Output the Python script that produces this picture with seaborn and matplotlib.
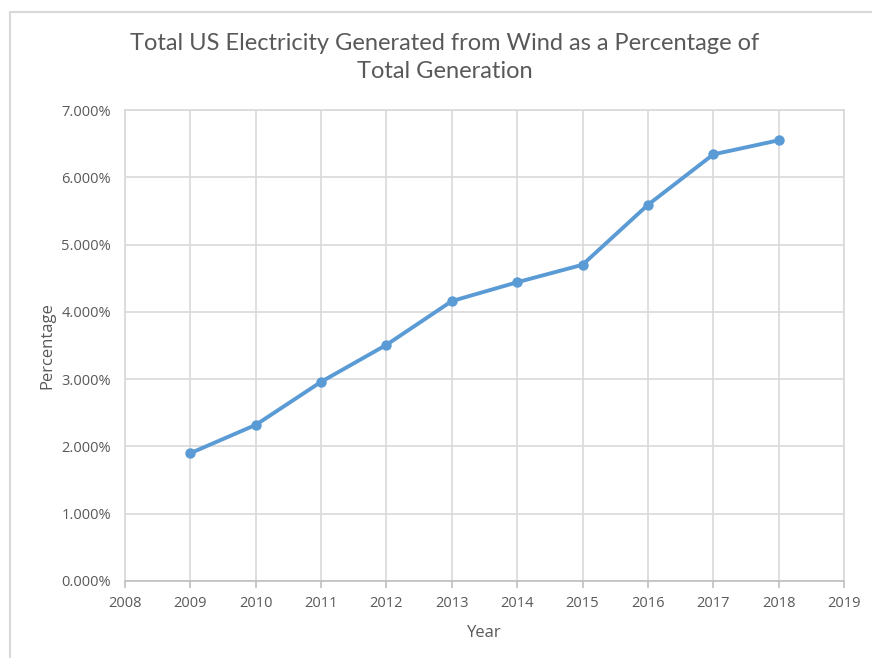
import matplotlib
matplotlib.use("Agg")
import matplotlib.pyplot as plt
import seaborn as sns
import pandas as pd
from matplotlib.lines import Line2D
from matplotlib.ticker import FuncFormatter, MultipleLocator

years = [2009, 2010, 2011, 2012, 2013, 2014, 2015, 2016, 2017, 2018]
wind_pct = [1.90, 2.32, 2.96, 3.51, 4.16, 4.44, 4.70, 5.59, 6.34, 6.55]

title = "Total US Electricity Generated from Wind as a Percentage of\nTotal Generation"

sns.set_theme(style="white")
plt.rcParams['font.family'] = ['Open Sans', 'DejaVu Sans']

df = pd.DataFrame({"Year": years, "Percentage": wind_pct})

fig = plt.figure(figsize=(8.72, 6.58), dpi=100)
ax = fig.add_axes([125/872, 1-581/658, (844-125)/872, (581-110)/658])

grid_c = "#d9d9d9"
text_c = "#595959"
blue = "#5b9bd5"

sns.lineplot(data=df, x="Year", y="Percentage", ax=ax, color=blue, linewidth=2.8,
             marker="o", markersize=7.5, markeredgewidth=0, zorder=3)

ax.set_xlim(2008, 2019)
ax.set_ylim(0, 7)
ax.xaxis.set_major_locator(MultipleLocator(1))
ax.yaxis.set_major_locator(MultipleLocator(1))
ax.yaxis.set_major_formatter(FuncFormatter(lambda v, p: f"{v:.3f}%"))
ax.xaxis.set_major_formatter(FuncFormatter(lambda v, p: f"{int(round(v))}"))
ax.grid(True, color=grid_c, linewidth=1.2, zorder=0)
for s in ax.spines.values():
    s.set_color(grid_c)
    s.set_linewidth(1.2)
ax.spines['bottom'].set_color("#bfbfbf")
ax.tick_params(axis='x', bottom=True, length=5, width=1.2, color="#bfbfbf",
               labelsize=10.5, labelcolor=text_c, pad=6)
ax.tick_params(axis='y', left=False, labelsize=10.5, labelcolor=text_c, pad=4)

ax.set_xlabel("Year", fontsize=12, color=text_c, labelpad=10)
ax.set_ylabel("Percentage", fontsize=12, color=text_c, labelpad=4)

fig.text(445/872, 1-57.5/658, title, ha="center", va="center", fontsize=17,
         color=text_c, linespacing=1.42, family=['Lato', 'DejaVu Sans'])

fig.add_artist(Line2D([10/872, 10/872], [0, 1-12/658], transform=fig.transFigure,
                      color=grid_c, linewidth=1.5))
fig.add_artist(Line2D([10/872, 1], [1-12/658, 1-12/658], transform=fig.transFigure,
                      color=grid_c, linewidth=1.5))

fig.savefig("out.png", dpi=100)
